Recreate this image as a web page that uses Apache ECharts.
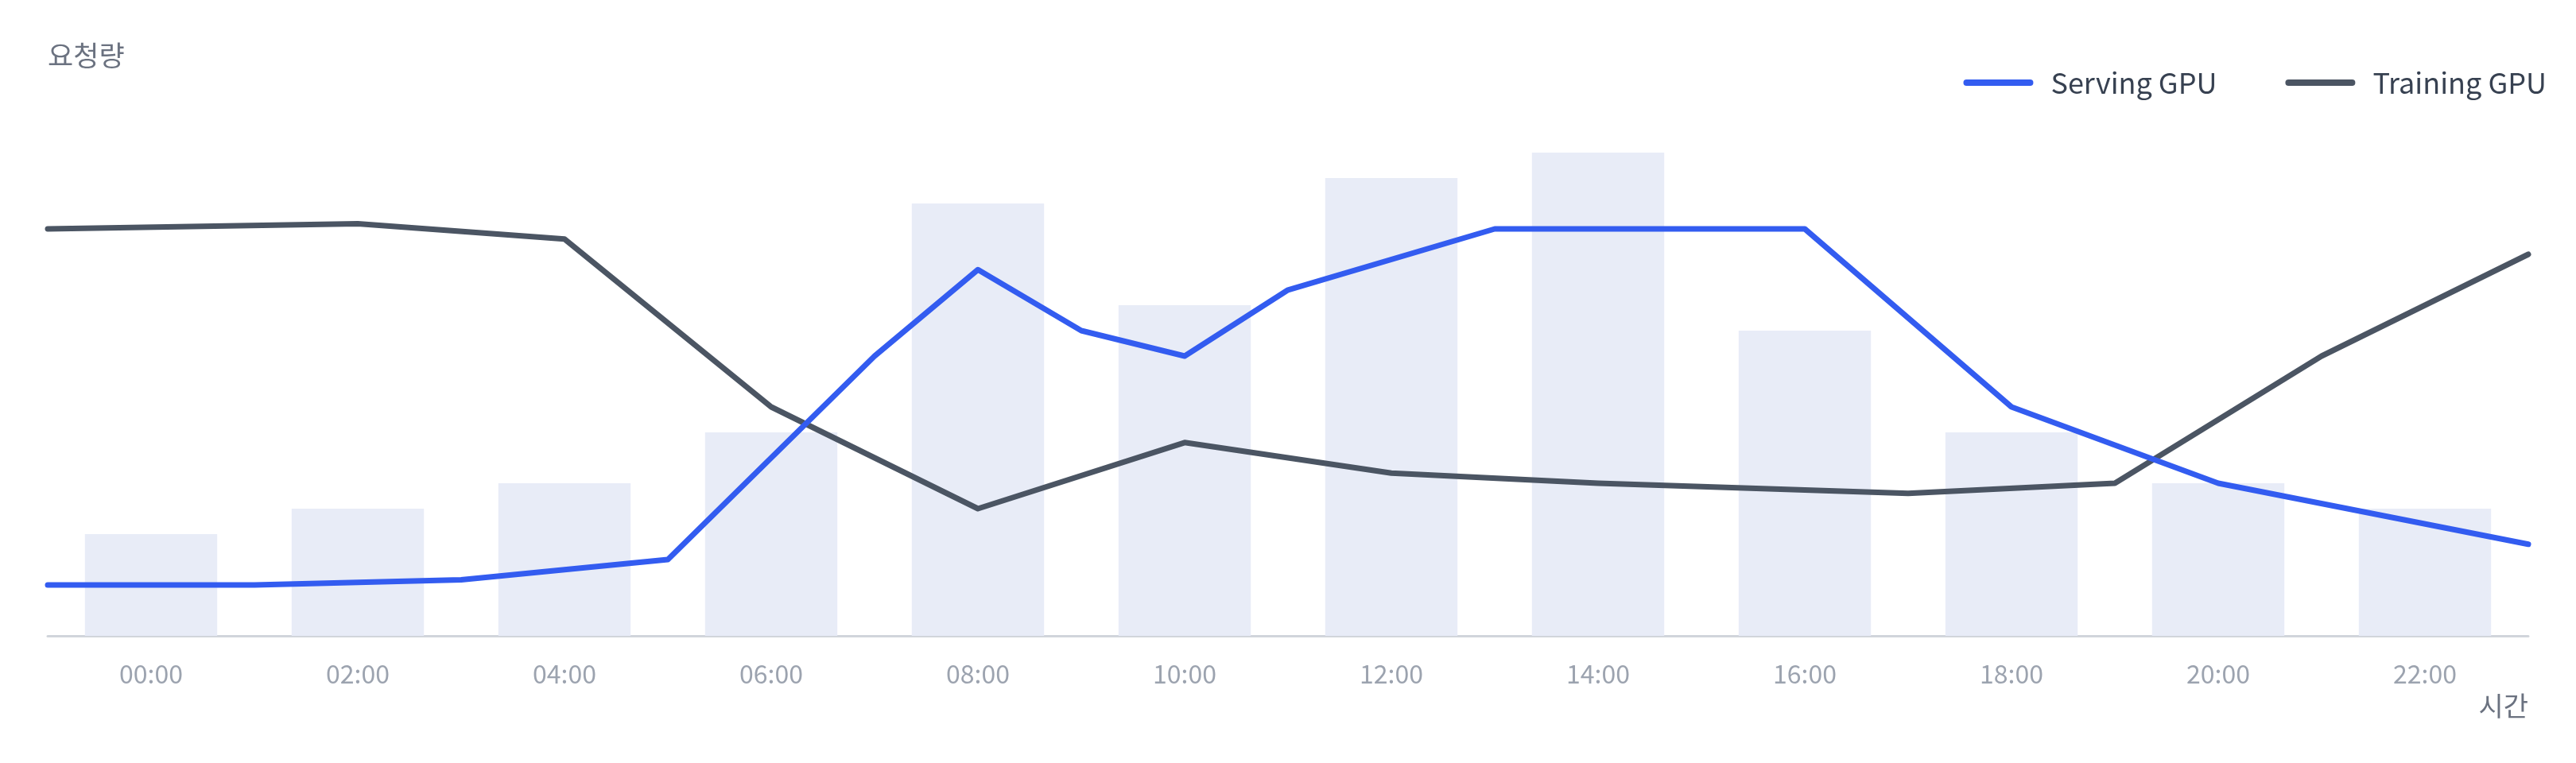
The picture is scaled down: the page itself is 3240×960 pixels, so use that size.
<!DOCTYPE html>
<html>
<head>
<meta charset="utf-8">
<script src="https://cdn.jsdelivr.net/npm/echarts@6/dist/echarts.min.js"></script>
<style>
html,body{margin:0;padding:0;background:#fff;}
#chart{width:3240px;height:960px;}
</style>
</head>
<body>
<div id="chart"></div>
<script>
const categories = ['00:00','02:00','04:00','06:00','08:00','10:00','12:00','14:00','16:00','18:00','20:00','22:00'];
const requests = [4,5,6,8,17,13,18,19,12,8,6,5];
const servingHours = [0,2,4,6,8,9,10,11,12,14,17,19,21,24];
const servingGpu = [10,10,11,15,55,72,60,55,68,80,80,45,30,18];
const trainingHours = [0,3,5,7,9,11,13,15,18,20,22,24];
const trainingGpu = [80,81,78,45,25,38,32,30,28,30,55,75];

const FONT = '"Noto Sans CJK KR", "Noto Sans", sans-serif';
const PILL = 'path://M4,0 L84,0 A4,4 0 0 1 84,8 L4,8 A4,4 0 0 1 4,0 Z';
const chart = echarts.init(document.getElementById('chart'));
chart.setOption({
  backgroundColor: '#ffffff',
  animation: false,
  textStyle: { fontFamily: FONT },
  grid: { left: 60, right: 60, top: 160, bottom: 160 },
  legend: {
    data: [
      { name: 'Serving GPU', icon: PILL },
      { name: 'Training GPU', icon: PILL }
    ],
    right: 32, top: 81,
    itemWidth: 88, itemHeight: 8, itemGap: 86,
    textStyle: { fontSize: 36, color: '#374151', fontFamily: FONT, padding: [0, 0, 0, 17] }
  },
  xAxis: [
    {
      type: 'category', data: categories, boundaryGap: true,
      name: '시간', nameLocation: 'end', nameGap: 0,
      nameTextStyle: { fontSize: 34, color: '#6b7280', align: 'right', verticalAlign: 'top', padding: [71, 0, 0, 0], fontFamily: FONT },
      axisLine: { show: true, lineStyle: { color: '#d1d5db', width: 3 } },
      axisTick: { show: false },
      axisLabel: { fontSize: 32, color: '#9ca3af', margin: 32, fontFamily: FONT },
      splitLine: { show: false }
    },
    {
      type: 'value', min: 0, max: 24, show: false
    }
  ],
  yAxis: [
    {
      type: 'value', min: 0, max: 20,
      name: '요청량', nameLocation: 'end', nameGap: 90,
      nameTextStyle: { fontSize: 35, color: '#6b7280', align: 'left', verticalAlign: 'middle', fontFamily: FONT },
      axisLine: { show: false }, axisTick: { show: false }, axisLabel: { show: false }, splitLine: { show: false }
    },
    {
      type: 'value', min: 0, max: 100, show: false
    }
  ],
  series: [
    {
      name: '요청량', type: 'bar', xAxisIndex: 0, yAxisIndex: 0,
      data: requests, barWidth: '64%',
      itemStyle: { color: '#e8ecf7' }, z: 1, silent: true
    },
    {
      name: 'Training GPU', type: 'line', xAxisIndex: 1, yAxisIndex: 1,
      data: trainingHours.map((h, i) => [h, trainingGpu[i]]),
      symbol: 'none', showSymbol: false,
      lineStyle: { color: '#4b5563', width: 7, cap: 'round', join: 'round' },
      itemStyle: { color: '#4b5563' }, z: 3
    },
    {
      name: 'Serving GPU', type: 'line', xAxisIndex: 1, yAxisIndex: 1,
      data: servingHours.map((h, i) => [h, servingGpu[i]]),
      symbol: 'none', showSymbol: false,
      lineStyle: { color: '#335cf0', width: 7, cap: 'round', join: 'round' },
      itemStyle: { color: '#335cf0' }, z: 4
    }
  ]
});
</script>
</body>
</html>
